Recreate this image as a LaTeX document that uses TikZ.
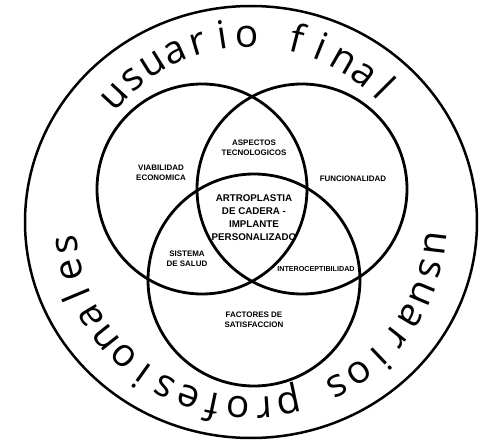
\documentclass[tikz,border=0pt]{standalone}
\usepackage{fontspec}
\setmainfont{Open Sans}
\newfontfamily\lblfont{Liberation Sans}
\usepackage{tikz}
\usetikzlibrary{positioning}

\begin{document}
\begin{tikzpicture}[ring/.style={circle, draw, line width=2.8bp, inner sep=0pt, minimum size=210bp},
	lbl/.style={align=center, font=\lblfont\bfseries\fontsize{8}{10.5}\selectfont},
	letter/.style={anchor=base, inner sep=0pt, font=\fontsize{39}{39}\selectfont}]
	\useasboundingbox (-251bp,-220bp) rectangle (238bp,222bp);
	\draw [line width=2.5bp] (0bp,0bp) ellipse (226bp and 216bp);

	\node (left)   at (-49bp,33bp)  [ring] {};
	\node (right)  at (51bp,33bp)   [ring] {};
	\node (bottom) at (3bp,-58bp)   [ring, minimum size=212bp] {};

	% texto sobre el anillo
	\foreach \ch [count=\i from 0] in {u,s,u,a,r,i,o,\ ,f,i,n,a,l}
		\node (top-\i) at ({137.3-\i*7.7}:175bp) [letter, rotate={47.3-\i*7.7}] {\ch};
	\foreach \ch [count=\i from 0] in {u,s,u,a,r,i,o,s,\ ,p,r,o,f,e,s,i,o,n,a,l,e,s}
		\node (bot-\i) at ({-6.8-\i*7.92}:175bp) [letter, rotate={-96.8-\i*7.92}] {\ch};

	\node (aspectos)  at (3bp,74bp)   [lbl] {ASPECTOS\\TECNOLOGICOS};
	\node (viabilidad) at (-90bp,49bp) [lbl] {VIABILIDAD\\ECONOMICA};
	\node (funcional) at (102bp,43bp) [lbl] {FUNCIONALIDAD};
	\node (centro)    at (3bp,4bp)    [lbl, font=\lblfont\bfseries\fontsize{9.8}{13}\selectfont] {ARTROPLASTIA\\DE CADERA -\\IMPLANTE\\PERSONALIZADO};
	\node (sistema)   at (-64bp,-37bp) [lbl] {SISTEMA\\DE SALUD};
	\node (intero)    at (65bp,-47bp) [lbl, font=\lblfont\bfseries\fontsize{7.2}{9}\selectfont] {INTEROCEPTIBILIDAD};
	\node (factores)  at (3bp,-98bp)  [lbl] {FACTORES DE\\SATISFACCION};
\end{tikzpicture}
\end{document}
